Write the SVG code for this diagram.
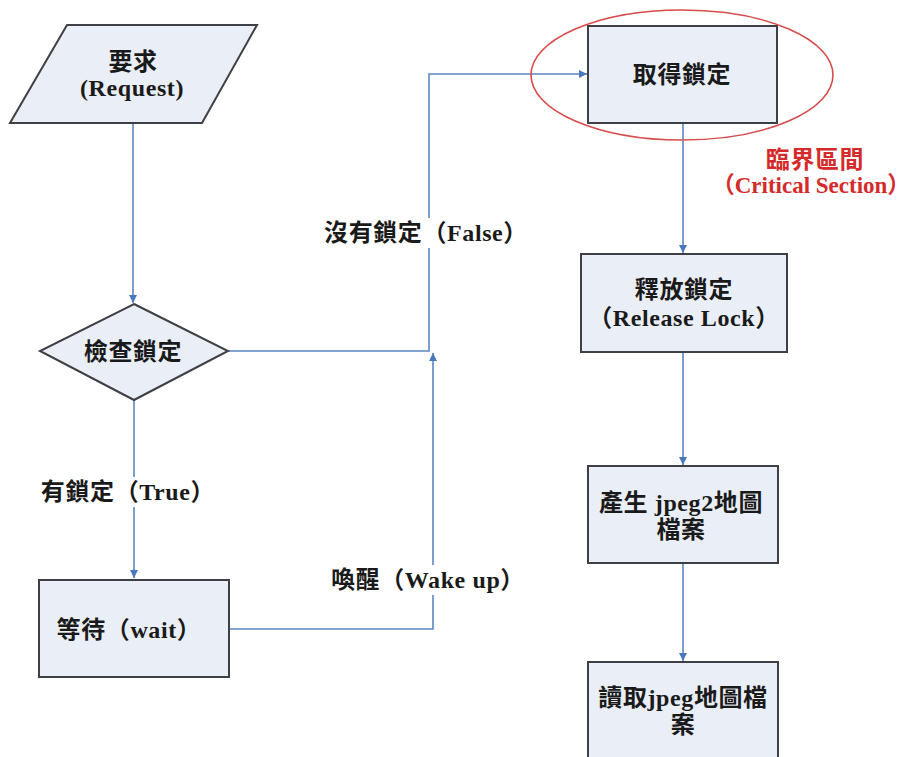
<svg xmlns="http://www.w3.org/2000/svg" width="917" height="757" viewBox="0 0 917 757">
<defs>
<style>
.shape{fill:#e9eef7;stroke:#3f3f46;stroke-width:2}
.conn{fill:none;stroke:#5b87c5;stroke-width:1.6}
.t{font-family:"Liberation Serif","Noto Sans CJK TC",serif;font-size:24px;font-weight:bold;fill:#1a1a1a;text-anchor:middle;letter-spacing:0.6px}
.red{fill:#d42a2a}
.bg{fill:#ffffff}
</style>
<marker id="arr" viewBox="0 0 10 10" refX="10" refY="5" markerWidth="8" markerHeight="8" markerUnits="userSpaceOnUse" orient="auto">
<path d="M0,0 L10,5 L0,10 z" fill="#4a78bd"/>
</marker>
</defs>
<rect width="917" height="757" fill="#ffffff"/>

<g id="connectors">
<path class="conn" d="M133,123 L133,303" marker-end="url(#arr)"/>
<path class="conn" d="M228,351 L429,351 L429,74 L587,74" marker-end="url(#arr)"/>
<path class="conn" d="M134,400 L134,578" marker-end="url(#arr)"/>
<path class="conn" d="M229,629 L433,629 L433,353" marker-end="url(#arr)"/>
<path class="conn" d="M683,123 L683,253" marker-end="url(#arr)"/>
<path class="conn" d="M683,352 L683,465" marker-end="url(#arr)"/>
<path class="conn" d="M683,563 L683,661" marker-end="url(#arr)"/>
<rect class="bg" x="320" y="218" width="212" height="30"/>
<text class="t" x="426" y="241">沒有鎖定（False）</text>
<rect class="bg" x="38" y="477" width="182" height="30"/>
<text class="t" x="128" y="500">有鎖定（True）</text>
<rect class="bg" x="328" y="565" width="202" height="30"/>
<text class="t" x="428" y="588">喚醒（Wake up）</text>
</g>

<g id="request">
<polygon class="shape" points="67,25 257,25 202,123 10,123"/>
<text class="t" x="133" y="70">要求</text>
<text class="t" x="132" y="96">(Request)</text>
</g>

<g id="check">
<polygon class="shape" points="134,304 228,351 134,400 40,351"/>
<text class="t" x="133" y="360">檢查鎖定</text>
</g>

<g id="wait">
<rect class="shape" x="39" y="580" width="190" height="97"/>
<text class="t" x="129" y="638">等待（wait）</text>
</g>

<g id="acquire">
<rect class="shape" x="588" y="26" width="189" height="97"/>
<text class="t" x="682" y="83">取得鎖定</text>
</g>

<g id="critical">
<ellipse cx="682" cy="75" rx="151" ry="65" fill="none" stroke="#d94a4a" stroke-width="1.6"/>
<text class="t red" x="815" y="168">臨界區間</text>
<text class="t red" x="811" y="193" style="font-size:23px;letter-spacing:0">（Critical Section）</text>
</g>

<g id="release">
<rect class="shape" x="581" y="254" width="206" height="98"/>
<text class="t" x="684" y="298">釋放鎖定</text>
<text class="t" x="684" y="326">（Release Lock）</text>
</g>

<g id="generate">
<rect class="shape" x="588" y="466" width="190" height="97"/>
<text class="t" x="681" y="511">產生 jpeg2地圖</text>
<text class="t" x="681" y="538">檔案</text>
</g>

<g id="read">
<rect class="shape" x="588" y="662" width="190" height="110"/>
<text class="t" x="683" y="706">讀取jpeg地圖檔</text>
<text class="t" x="683" y="733">案</text>
</g>
</svg>
